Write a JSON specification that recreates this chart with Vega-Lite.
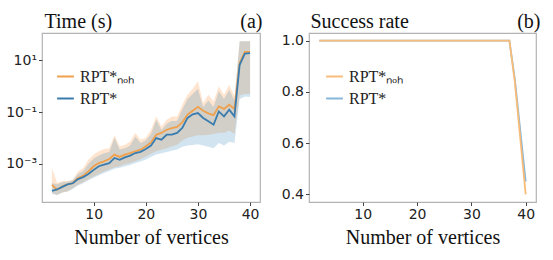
{
"$schema": "https://vega.github.io/schema/vega-lite/v6.json",
"padding": {"left": 5, "top": 10, "right": 2, "bottom": 2},
"background": "white",
"spacing": 17,
"config": {
  "view": {"stroke": "#b3b3b3", "strokeWidth": 1.2},
  "axis": {"grid": false, "domain": false, "tickColor": "#444", "tickSize": 3.5, "tickWidth": 1, "labelFont": "DejaVu Sans", "labelFontSize": 14, "labelColor": "#222", "labelPadding": 2, "titleFont": "Liberation Serif", "titleFontWeight": "normal", "titleColor": "#111", "titleFontSize": 20},
  "legend": {"orient": "none", "title": null, "symbolType": "stroke", "symbolSize": 280, "symbolStrokeWidth": 2, "labelFont": "Liberation Serif", "labelFontSize": 16, "labelColor": "#222", "labelOffset": 5, "rowPadding": 4, "padding": 0}
},
"datasets": {
  "time": [
    {"n": 2, "s": "RPT*ₙₒₕ", "m": 1.51e-4, "lo": 7.24e-5, "hi": 6.76e-4},
    {"n": 3, "s": "RPT*ₙₒₕ", "m": 9.77e-5, "lo": 6.31e-5, "hi": 1.82e-4},
    {"n": 4, "s": "RPT*ₙₒₕ", "m": 1.32e-4, "lo": 7.59e-5, "hi": 2.14e-4},
    {"n": 5, "s": "RPT*ₙₒₕ", "m": 1.58e-4, "lo": 8.32e-5, "hi": 2.14e-4},
    {"n": 6, "s": "RPT*ₙₒₕ", "m": 1.78e-4, "lo": 1.12e-4, "hi": 2.40e-4},
    {"n": 7, "s": "RPT*ₙₒₕ", "m": 2.75e-4, "lo": 1.51e-4, "hi": 5.01e-4},
    {"n": 8, "s": "RPT*ₙₒₕ", "m": 3.39e-4, "lo": 1.91e-4, "hi": 6.76e-4},
    {"n": 9, "s": "RPT*ₙₒₕ", "m": 5.01e-4, "lo": 2.51e-4, "hi": 1.41e-3},
    {"n": 10, "s": "RPT*ₙₒₕ", "m": 7.94e-4, "lo": 3.16e-4, "hi": 2.24e-3},
    {"n": 11, "s": "RPT*ₙₒₕ", "m": 1.05e-3, "lo": 3.98e-4, "hi": 3.02e-3},
    {"n": 12, "s": "RPT*ₙₒₕ", "m": 1.23e-3, "lo": 5.01e-4, "hi": 3.72e-3},
    {"n": 13, "s": "RPT*ₙₒₕ", "m": 1.51e-3, "lo": 6.03e-4, "hi": 3.98e-3},
    {"n": 14, "s": "RPT*ₙₒₕ", "m": 2.24e-3, "lo": 7.08e-4, "hi": 1.26e-2},
    {"n": 15, "s": "RPT*ₙₒₕ", "m": 1.82e-3, "lo": 7.94e-4, "hi": 4.68e-3},
    {"n": 16, "s": "RPT*ₙₒₕ", "m": 2.24e-3, "lo": 9.55e-4, "hi": 5.37e-3},
    {"n": 17, "s": "RPT*ₙₒₕ", "m": 2.57e-3, "lo": 1.07e-3, "hi": 7.24e-3},
    {"n": 18, "s": "RPT*ₙₒₕ", "m": 3.02e-3, "lo": 1.23e-3, "hi": 1.55e-2},
    {"n": 19, "s": "RPT*ₙₒₕ", "m": 3.47e-3, "lo": 1.51e-3, "hi": 8.51e-3},
    {"n": 20, "s": "RPT*ₙₒₕ", "m": 4.68e-3, "lo": 1.91e-3, "hi": 1.0e-2},
    {"n": 21, "s": "RPT*ₙₒₕ", "m": 6.61e-3, "lo": 2.40e-3, "hi": 2.04e-2},
    {"n": 22, "s": "RPT*ₙₒₕ", "m": 1.32e-2, "lo": 3.02e-3, "hi": 6.76e-2},
    {"n": 23, "s": "RPT*ₙₒₕ", "m": 1.55e-2, "lo": 3.47e-3, "hi": 2.75e-2},
    {"n": 24, "s": "RPT*ₙₒₕ", "m": 2.04e-2, "lo": 3.98e-3, "hi": 5.01e-2},
    {"n": 25, "s": "RPT*ₙₒₕ", "m": 2.40e-2, "lo": 4.68e-3, "hi": 6.76e-2},
    {"n": 26, "s": "RPT*ₙₒₕ", "m": 2.63e-2, "lo": 5.37e-3, "hi": 6.76e-2},
    {"n": 27, "s": "RPT*ₙₒₕ", "m": 3.98e-2, "lo": 7.94e-3, "hi": 0.191},
    {"n": 28, "s": "RPT*ₙₒₕ", "m": 7.94e-2, "lo": 1.0e-2, "hi": 0.468},
    {"n": 29, "s": "RPT*ₙₒₕ", "m": 0.112, "lo": 1.12e-2, "hi": 0.794},
    {"n": 30, "s": "RPT*ₙₒₕ", "m": 0.158, "lo": 1.26e-2, "hi": 1.55},
    {"n": 31, "s": "RPT*ₙₒₕ", "m": 0.112, "lo": 1.26e-2, "hi": 0.224},
    {"n": 32, "s": "RPT*ₙₒₕ", "m": 8.91e-2, "lo": 1.32e-2, "hi": 0.468},
    {"n": 33, "s": "RPT*ₙₒₕ", "m": 7.59e-2, "lo": 1.41e-2, "hi": 0.257},
    {"n": 34, "s": "RPT*ₙₒₕ", "m": 0.166, "lo": 1.58e-2, "hi": 1.0},
    {"n": 35, "s": "RPT*ₙₒₕ", "m": 0.132, "lo": 1.58e-2, "hi": 0.468},
    {"n": 36, "s": "RPT*ₙₒₕ", "m": 0.191, "lo": 1.91e-2, "hi": 1.15},
    {"n": 37, "s": "RPT*ₙₒₕ", "m": 0.132, "lo": 1.41e-2, "hi": 0.398},
    {"n": 38, "s": "RPT*ₙₒₕ", "m": 7.94, "lo": 0.447, "hi": 55},
    {"n": 39, "s": "RPT*ₙₒₕ", "m": 21.4, "lo": 0.501, "hi": 55},
    {"n": 40, "s": "RPT*ₙₒₕ", "m": 21.4, "lo": 0.501, "hi": 55},
    {"n": 2, "s": "RPT*", "m": 8.91e-5, "lo": 6.76e-5, "hi": 1.78e-4},
    {"n": 3, "s": "RPT*", "m": 1.0e-4, "lo": 6.03e-5, "hi": 1.58e-4},
    {"n": 4, "s": "RPT*", "m": 1.26e-4, "lo": 7.59e-5, "hi": 1.91e-4},
    {"n": 5, "s": "RPT*", "m": 1.58e-4, "lo": 8.32e-5, "hi": 2.0e-4},
    {"n": 6, "s": "RPT*", "m": 1.74e-4, "lo": 1.05e-4, "hi": 2.29e-4},
    {"n": 7, "s": "RPT*", "m": 2.51e-4, "lo": 1.41e-4, "hi": 3.98e-4},
    {"n": 8, "s": "RPT*", "m": 3.02e-4, "lo": 1.74e-4, "hi": 5.25e-4},
    {"n": 9, "s": "RPT*", "m": 3.98e-4, "lo": 2.29e-4, "hi": 1.0e-3},
    {"n": 10, "s": "RPT*", "m": 5.75e-4, "lo": 2.82e-4, "hi": 1.58e-3},
    {"n": 11, "s": "RPT*", "m": 7.94e-4, "lo": 3.55e-4, "hi": 2.09e-3},
    {"n": 12, "s": "RPT*", "m": 9.12e-4, "lo": 4.37e-4, "hi": 2.51e-3},
    {"n": 13, "s": "RPT*", "m": 1.05e-3, "lo": 5.25e-4, "hi": 2.82e-3},
    {"n": 14, "s": "RPT*", "m": 1.66e-3, "lo": 6.31e-4, "hi": 1.0e-2},
    {"n": 15, "s": "RPT*", "m": 1.41e-3, "lo": 6.92e-4, "hi": 3.55e-3},
    {"n": 16, "s": "RPT*", "m": 1.74e-3, "lo": 7.94e-4, "hi": 3.98e-3},
    {"n": 17, "s": "RPT*", "m": 2.04e-3, "lo": 8.91e-4, "hi": 5.01e-3},
    {"n": 18, "s": "RPT*", "m": 2.57e-3, "lo": 1.05e-3, "hi": 1.12e-2},
    {"n": 19, "s": "RPT*", "m": 2.88e-3, "lo": 1.20e-3, "hi": 6.31e-3},
    {"n": 20, "s": "RPT*", "m": 3.72e-3, "lo": 1.45e-3, "hi": 7.94e-3},
    {"n": 21, "s": "RPT*", "m": 5.01e-3, "lo": 1.82e-3, "hi": 1.41e-2},
    {"n": 22, "s": "RPT*", "m": 9.77e-3, "lo": 2.24e-3, "hi": 5.01e-2},
    {"n": 23, "s": "RPT*", "m": 8.51e-3, "lo": 2.51e-3, "hi": 2.0e-2},
    {"n": 24, "s": "RPT*", "m": 1.32e-2, "lo": 2.82e-3, "hi": 3.55e-2},
    {"n": 25, "s": "RPT*", "m": 1.32e-2, "lo": 3.16e-3, "hi": 4.47e-2},
    {"n": 26, "s": "RPT*", "m": 1.55e-2, "lo": 3.55e-3, "hi": 4.47e-2},
    {"n": 27, "s": "RPT*", "m": 2.40e-2, "lo": 4.47e-3, "hi": 0.126},
    {"n": 28, "s": "RPT*", "m": 5.89e-2, "lo": 5.01e-3, "hi": 0.316},
    {"n": 29, "s": "RPT*", "m": 8.13e-2, "lo": 5.25e-3, "hi": 0.501},
    {"n": 30, "s": "RPT*", "m": 9.12e-2, "lo": 5.62e-3, "hi": 0.794},
    {"n": 31, "s": "RPT*", "m": 5.89e-2, "lo": 5.01e-3, "hi": 0.158},
    {"n": 32, "s": "RPT*", "m": 4.37e-2, "lo": 4.47e-3, "hi": 0.282},
    {"n": 33, "s": "RPT*", "m": 3.24e-2, "lo": 3.98e-3, "hi": 0.158},
    {"n": 34, "s": "RPT*", "m": 1.05e-1, "lo": 6.31e-3, "hi": 0.631},
    {"n": 35, "s": "RPT*", "m": 6.76e-2, "lo": 5.01e-3, "hi": 0.316},
    {"n": 36, "s": "RPT*", "m": 0.123, "lo": 7.08e-3, "hi": 0.708},
    {"n": 37, "s": "RPT*", "m": 6.76e-2, "lo": 6.31e-3, "hi": 0.282},
    {"n": 38, "s": "RPT*", "m": 6.76, "lo": 0.316, "hi": 55},
    {"n": 39, "s": "RPT*", "m": 18.2, "lo": 0.398, "hi": 55},
    {"n": 40, "s": "RPT*", "m": 19.1, "lo": 0.380, "hi": 55}
  ],
  "succ": [
    {"n": 2, "s": "RPT*ₙₒₕ", "r": 1.0}, {"n": 3, "s": "RPT*ₙₒₕ", "r": 1.0}, {"n": 4, "s": "RPT*ₙₒₕ", "r": 1.0}, {"n": 5, "s": "RPT*ₙₒₕ", "r": 1.0},
    {"n": 6, "s": "RPT*ₙₒₕ", "r": 1.0}, {"n": 7, "s": "RPT*ₙₒₕ", "r": 1.0}, {"n": 8, "s": "RPT*ₙₒₕ", "r": 1.0}, {"n": 9, "s": "RPT*ₙₒₕ", "r": 1.0},
    {"n": 10, "s": "RPT*ₙₒₕ", "r": 1.0}, {"n": 11, "s": "RPT*ₙₒₕ", "r": 1.0}, {"n": 12, "s": "RPT*ₙₒₕ", "r": 1.0}, {"n": 13, "s": "RPT*ₙₒₕ", "r": 1.0},
    {"n": 14, "s": "RPT*ₙₒₕ", "r": 1.0}, {"n": 15, "s": "RPT*ₙₒₕ", "r": 1.0}, {"n": 16, "s": "RPT*ₙₒₕ", "r": 1.0}, {"n": 17, "s": "RPT*ₙₒₕ", "r": 1.0},
    {"n": 18, "s": "RPT*ₙₒₕ", "r": 1.0}, {"n": 19, "s": "RPT*ₙₒₕ", "r": 1.0}, {"n": 20, "s": "RPT*ₙₒₕ", "r": 1.0}, {"n": 21, "s": "RPT*ₙₒₕ", "r": 1.0},
    {"n": 22, "s": "RPT*ₙₒₕ", "r": 1.0}, {"n": 23, "s": "RPT*ₙₒₕ", "r": 1.0}, {"n": 24, "s": "RPT*ₙₒₕ", "r": 1.0}, {"n": 25, "s": "RPT*ₙₒₕ", "r": 1.0},
    {"n": 26, "s": "RPT*ₙₒₕ", "r": 1.0}, {"n": 27, "s": "RPT*ₙₒₕ", "r": 1.0}, {"n": 28, "s": "RPT*ₙₒₕ", "r": 1.0}, {"n": 29, "s": "RPT*ₙₒₕ", "r": 1.0},
    {"n": 30, "s": "RPT*ₙₒₕ", "r": 1.0}, {"n": 31, "s": "RPT*ₙₒₕ", "r": 1.0}, {"n": 32, "s": "RPT*ₙₒₕ", "r": 1.0}, {"n": 33, "s": "RPT*ₙₒₕ", "r": 1.0},
    {"n": 34, "s": "RPT*ₙₒₕ", "r": 1.0}, {"n": 35, "s": "RPT*ₙₒₕ", "r": 1.0}, {"n": 36, "s": "RPT*ₙₒₕ", "r": 1.0}, {"n": 37, "s": "RPT*ₙₒₕ", "r": 1.0},
    {"n": 38, "s": "RPT*ₙₒₕ", "r": 0.84}, {"n": 39, "s": "RPT*ₙₒₕ", "r": 0.62}, {"n": 40, "s": "RPT*ₙₒₕ", "r": 0.40},
    {"n": 2, "s": "RPT*", "r": 1.0}, {"n": 3, "s": "RPT*", "r": 1.0}, {"n": 4, "s": "RPT*", "r": 1.0}, {"n": 5, "s": "RPT*", "r": 1.0},
    {"n": 6, "s": "RPT*", "r": 1.0}, {"n": 7, "s": "RPT*", "r": 1.0}, {"n": 8, "s": "RPT*", "r": 1.0}, {"n": 9, "s": "RPT*", "r": 1.0},
    {"n": 10, "s": "RPT*", "r": 1.0}, {"n": 11, "s": "RPT*", "r": 1.0}, {"n": 12, "s": "RPT*", "r": 1.0}, {"n": 13, "s": "RPT*", "r": 1.0},
    {"n": 14, "s": "RPT*", "r": 1.0}, {"n": 15, "s": "RPT*", "r": 1.0}, {"n": 16, "s": "RPT*", "r": 1.0}, {"n": 17, "s": "RPT*", "r": 1.0},
    {"n": 18, "s": "RPT*", "r": 1.0}, {"n": 19, "s": "RPT*", "r": 1.0}, {"n": 20, "s": "RPT*", "r": 1.0}, {"n": 21, "s": "RPT*", "r": 1.0},
    {"n": 22, "s": "RPT*", "r": 1.0}, {"n": 23, "s": "RPT*", "r": 1.0}, {"n": 24, "s": "RPT*", "r": 1.0}, {"n": 25, "s": "RPT*", "r": 1.0},
    {"n": 26, "s": "RPT*", "r": 1.0}, {"n": 27, "s": "RPT*", "r": 1.0}, {"n": 28, "s": "RPT*", "r": 1.0}, {"n": 29, "s": "RPT*", "r": 1.0},
    {"n": 30, "s": "RPT*", "r": 1.0}, {"n": 31, "s": "RPT*", "r": 1.0}, {"n": 32, "s": "RPT*", "r": 1.0}, {"n": 33, "s": "RPT*", "r": 1.0},
    {"n": 34, "s": "RPT*", "r": 1.0}, {"n": 35, "s": "RPT*", "r": 1.0}, {"n": 36, "s": "RPT*", "r": 1.0}, {"n": 37, "s": "RPT*", "r": 1.0},
    {"n": 38, "s": "RPT*", "r": 0.85}, {"n": 39, "s": "RPT*", "r": 0.65}, {"n": 40, "s": "RPT*", "r": 0.45}
  ]
},
"hconcat": [
  {
    "width": 218, "height": 169,
    "data": {"name": "time"},
    "resolve": {"axis": {"x": "independent"}},
    "layer": [
      {
        "transform": [{"filter": "datum.s != 'RPT*'"}],
        "mark": {"type": "area", "opacity": 0.2, "color": "#ff7f0e"},
        "encoding": {
          "x": {"field": "n", "type": "quantitative", "scale": {"domain": [0.1, 41.9], "nice": false, "zero": false},
                "axis": {"orient": "top", "title": "(a)", "labels": false, "ticks": false, "titleX": 220, "titleY": -6, "titleAlign": "right", "titleBaseline": "alphabetic", "titleAnchor": "end"}},
          "y": {"field": "lo", "type": "quantitative", "scale": {"type": "log", "domain": [3.27e-5, 115], "nice": false},
                "axis": {"title": "Time (s)", "titleAngle": 0, "titleX": 2, "titleY": -6, "titleAlign": "left", "titleBaseline": "alphabetic", "values": [0.001, 0.1, 10], "labelExpr": "datum.value >= 1 ? '10¹' : (datum.value >= 0.01 ? '10⁻¹' : '10⁻³')"}},
          "y2": {"field": "hi"}
        }
      },
      {
        "transform": [{"filter": "datum.s == 'RPT*'"}],
        "mark": {"type": "area", "opacity": 0.2, "color": "#1f77b4"},
        "encoding": {
          "x": {"field": "n", "type": "quantitative", "axis": null},
          "y": {"field": "lo", "type": "quantitative",
                "axis": {"title": "Time (s)", "titleAngle": 0, "titleX": 2, "titleY": -6, "titleAlign": "left", "titleBaseline": "alphabetic", "values": [0.001, 0.1, 10], "labelExpr": "datum.value >= 1 ? '10¹' : (datum.value >= 0.01 ? '10⁻¹' : '10⁻³')"}},
          "y2": {"field": "hi"}
        }
      },
      {
        "mark": {"type": "line", "strokeWidth": 1.8},
        "encoding": {
          "x": {"field": "n", "type": "quantitative", "axis": {"title": "Number of vertices", "values": [10, 20, 30, 40], "titlePadding": 6}},
          "y": {"field": "m", "type": "quantitative",
                "axis": {"title": "Time (s)", "titleAngle": 0, "titleX": 2, "titleY": -6, "titleAlign": "left", "titleBaseline": "alphabetic", "values": [0.001, 0.1, 10], "labelExpr": "datum.value >= 1 ? '10¹' : (datum.value >= 0.01 ? '10⁻¹' : '10⁻³')"}},
          "color": {"field": "s", "type": "nominal", "scale": {"domain": ["RPT*ₙₒₕ", "RPT*"], "range": ["#f0a04b", "#3a7cad"]},
                    "legend": {"legendX": 14, "legendY": 34}}
        }
      }
    ]
  },
  {
    "width": 227, "height": 169,
    "data": {"name": "succ"},
    "resolve": {"axis": {"x": "independent"}},
    "layer": [
      {
        "transform": [{"filter": "datum.s == 'RPT*'"}],
        "mark": {"type": "line", "strokeWidth": 1.8},
        "encoding": {
          "x": {"field": "n", "type": "quantitative", "scale": {"domain": [0.1, 41.9], "nice": false, "zero": false},
                "axis": {"orient": "top", "title": "(b)", "labels": false, "ticks": false, "titleX": 231, "titleY": -6, "titleAlign": "right", "titleBaseline": "alphabetic", "titleAnchor": "end"}},
          "y": {"field": "r", "type": "quantitative", "scale": {"domain": [0.37, 1.03], "nice": false, "zero": false},
                "axis": {"title": "Success rate", "titleAngle": 0, "titleX": 1, "titleY": -6, "titleAlign": "left", "titleBaseline": "alphabetic", "values": [0.4, 0.6, 0.8, 1.0], "format": ".1f"}},
          "color": {"field": "s", "type": "nominal", "scale": {"domain": ["RPT*ₙₒₕ", "RPT*"], "range": ["#f8bc7a", "#86b6d9"]},
                    "legend": {"legendX": 16, "legendY": 34}}
        }
      },
      {
        "transform": [{"filter": "datum.s != 'RPT*'"}],
        "mark": {"type": "line", "strokeWidth": 1.8},
        "encoding": {
          "x": {"field": "n", "type": "quantitative", "axis": {"title": "Number of vertices", "values": [10, 20, 30, 40], "titlePadding": 6}},
          "y": {"field": "r", "type": "quantitative",
                "axis": {"title": "Success rate", "titleAngle": 0, "titleX": 1, "titleY": -6, "titleAlign": "left", "titleBaseline": "alphabetic", "values": [0.4, 0.6, 0.8, 1.0], "format": ".1f"}},
          "color": {"field": "s", "type": "nominal", "scale": {"domain": ["RPT*ₙₒₕ", "RPT*"], "range": ["#f8bc7a", "#86b6d9"]},
                    "legend": {"legendX": 16, "legendY": 34}}
        }
      }
    ]
  }
],
"resolve": {"scale": {"color": "independent"}, "legend": {"color": "independent"}}
}
